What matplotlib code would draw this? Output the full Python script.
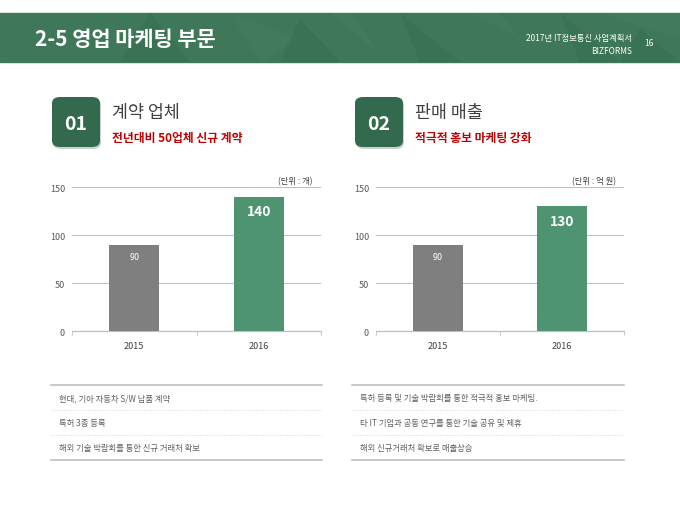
import matplotlib.pyplot as plt
from matplotlib.patches import Rectangle, FancyBboxPatch, Polygon
import numpy as np

plt.rcParams['font.family'] = ['Noto Sans CJK KR', 'DejaVu Sans']

# data
years = ['2015', '2016']
contracts = [90, 140]
sales = [90, 130]
bar_colors = ['#7f7f7f', '#4e9470']
y_ticks = [0, 50, 100, 150]

section_nums = ['01', '02']
section_titles = ['계약 업체', '판매 매출']
section_subs = ['전년대비 50업체 신규 계약', '적극적 홍보 마케팅 강화']
units = ['(단위 : 개)', '(단위 : 억 원)']

left_items = ['현대, 기아 자동차 S/W 납품 계약',
              '특허 3종 등록',
              '해외 기술 박람회를 통한 신규 거래처 확보']
right_items = ['특허 등록 및 기술 박람회를 통한 적극적 홍보 마케팅.',
               '타 IT 기업과 공동 연구를 통한 기술 공유 및 제휴',
               '해외 신규거래처 확보로 매출상승']

W, H = 680, 510
fig = plt.figure(figsize=(6.8, 5.1), dpi=100)
fig.patch.set_facecolor('white')


def fx(x):
    return x / W


def fy(y):
    return 1 - y / H


# header band
fig.patches.append(Rectangle((0, fy(63)), 1, (63 - 14) / H,
                             transform=fig.transFigure, color='#3e7859', zorder=0))
# faint triangle texture on the header
tris = [
    [(150, 14), (190, 63), (120, 63)],
    [(230, 14), (300, 40), (260, 63)],
    [(300, 20), (340, 63), (280, 63)],
    [(330, 14), (380, 55), (350, 14)],
    [(400, 14), (460, 63), (420, 63)],
    [(470, 14), (520, 40), (500, 14)],
    [(560, 14), (620, 63), (580, 63)],
    [(600, 14), (680, 40), (680, 14)],
    [(640, 30), (680, 63), (620, 63)],
]
for i, t in enumerate(tris):
    pts = [(fx(a), fy(b)) for a, b in t]
    c = '#2f6248' if i % 2 == 0 else '#4a8565'
    fig.patches.append(Polygon(pts, closed=True, transform=fig.transFigure,
                               color=c, alpha=0.25, zorder=0.5, lw=0))

fig.text(fx(35), fy(40), '2-5 영업 마케팅 부문', color='white', fontsize=15,
         fontweight='bold', va='center', ha='left')
fig.text(fx(632), fy(38), '2017년 IT정보통신 사업계획서', color='white', fontsize=6,
         va='center', ha='right')
fig.text(fx(632), fy(51), 'BIZFORMS', color='white', fontsize=6,
         va='center', ha='right')
fig.text(fx(644), fy(44), '16', color='white', fontsize=6, va='center', ha='left')

# section boxes and titles
box_x = [52, 355]
for i in range(2):
    x0 = box_x[i]
    fig.patches.append(FancyBboxPatch((fx(x0 + 1), fy(150)), fx(48), 50 / H,
                                      boxstyle='round,pad=0,rounding_size=0.012',
                                      transform=fig.transFigure, color='#c9d3cd',
                                      zorder=1, lw=0))
    fig.patches.append(FancyBboxPatch((fx(x0), fy(148)), fx(48), 50 / H,
                                      boxstyle='round,pad=0,rounding_size=0.012',
                                      transform=fig.transFigure, color='#33694d',
                                      zorder=2, lw=0))
    fig.text(fx(x0 + 24), fy(124), section_nums[i], color='white', fontsize=14,
             fontweight='bold', ha='center', va='center', zorder=3)
    fig.text(fx(x0 + 60), fy(113), section_titles[i], color='#404040', fontsize=12.5,
             ha='left', va='center')
    fig.text(fx(x0 + 60), fy(139), section_subs[i], color='#c00000', fontsize=8.5,
             fontweight='bold', ha='left', va='center')

# charts
chart_boxes = [(72, 321), (376, 624)]
chart_data = [contracts, sales]
for i in range(2):
    l, r = chart_boxes[i]
    ax = fig.add_axes([fx(l), fy(332), fx(r - l), 144 / H])
    vals = chart_data[i]
    x = np.arange(len(years))
    ax.bar(x, vals, width=0.4, color=bar_colors, zorder=3)
    ax.set_xlim(-0.5, len(years) - 0.5)
    ax.set_ylim(0, 150)
    ax.set_yticks(y_ticks)
    ax.yaxis.grid(True, color='#c0c0c0', lw=0.8, zorder=0)
    ax.set_axisbelow(True)
    for s in ['top', 'right', 'left']:
        ax.spines[s].set_visible(False)
    ax.spines['bottom'].set_color('#c0c0c0')
    ax.spines['bottom'].set_linewidth(0.9)
    ax.tick_params(axis='y', length=0, labelsize=6.5, labelcolor='#595959', pad=5)
    ax.set_xticks(x)
    ax.set_xticklabels(years)
    ax.tick_params(axis='x', length=0, labelsize=6.5, labelcolor='#404040', pad=7)
    ax.set_xticks([-0.5, 0.5, 1.5], minor=True)
    ax.tick_params(axis='x', which='minor', length=3, color='#c0c0c0', direction='out')
    # value labels
    ax.text(0, vals[0] - 12, str(vals[0]), color='white', fontsize=6.5,
            ha='center', va='center', zorder=4)
    ax.text(1, vals[1] - 15, str(vals[1]), color='white', fontsize=10,
            fontweight='bold', ha='center', va='center', zorder=4)
    fig.text(fx(r - 8), fy(182), units[i], color='#404040', fontsize=6,
             ha='right', va='center')

# bottom lists
list_x = [(51, 322), (352, 624)]
list_items = [left_items, right_items]
line_ys = [386, 411, 436, 461]
for i in range(2):
    a, b = list_x[i]
    for k, yy in enumerate(line_ys):
        if k in (0, 3):
            fig.add_artist(plt.Line2D([fx(a), fx(b)], [fy(yy), fy(yy)],
                                      color='#bfbfbf', lw=1.2, transform=fig.transFigure))
        else:
            fig.add_artist(plt.Line2D([fx(a), fx(b)], [fy(yy), fy(yy)],
                                      color='#d5d5d5', lw=0.7, ls=(0, (1, 1.5)),
                                      transform=fig.transFigure))
    for k, item in enumerate(list_items[i]):
        fig.text(fx(a + 8), fy(398.5 + 25 * k), item, color='#606060', fontsize=6,
                 ha='left', va='center')

plt.savefig('out.png', dpi=100)
